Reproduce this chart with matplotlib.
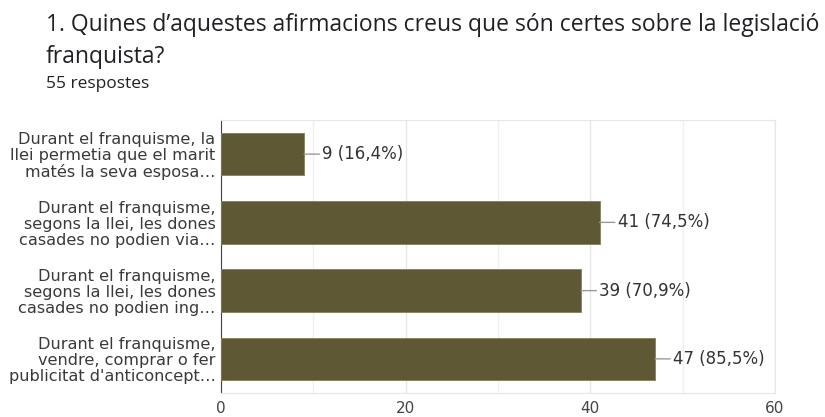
import matplotlib
matplotlib.use('Agg')
import matplotlib.pyplot as plt
from matplotlib.ticker import MultipleLocator

# Survey data
labels = [
    "Durant el franquisme, la\nllei permetia que el marit\nmatés la seva esposa…",
    "Durant el franquisme,\nsegons la llei, les dones\ncasades no podien via…",
    "Durant el franquisme,\nsegons la llei, les dones\ncasades no podien ing…",
    "Durant el franquisme,\nvendre, comprar o fer\npublicitat d'anticoncept…",
]
counts = [9, 41, 39, 47]
percents = ["16,4%", "74,5%", "70,9%", "85,5%"]
xticks = [0, 20, 40, 60]

title_line1 = "1. Quines d\u2019aquestes afirmacions creus que són certes sobre la legislació"
title_line2 = "franquista?"
subtitle = "55 respostes"

bar_color = '#5e5834'

fig = plt.figure(figsize=(8.25, 4.17), dpi=100)
ax = fig.add_axes([221 / 825, 1 - 393 / 417, (775 - 221) / 825, (393 - 120) / 417])

ypos = list(range(len(labels)))
ax.barh(ypos, counts, height=0.62, color=bar_color, edgecolor='#858058', linewidth=0.6, zorder=3)
ax.set_ylim(len(labels) - 0.5, -0.5)
ax.set_xlim(0, 60)

for y, c, p in zip(ypos, counts, percents):
    ax.annotate(f"{c} ({p})", xy=(c, y), xytext=(13, 0), textcoords='offset points',
                ha='left', va='center', fontsize=12, color='#333333', family='DejaVu Sans',
                arrowprops=dict(arrowstyle='-', color='#9a9a9a', lw=1, shrinkA=0, shrinkB=0))

ax.set_yticks(ypos)
ax.set_yticklabels(labels, fontsize=11.6, color='#3a3a3a', family='DejaVu Sans', linespacing=1.08)
ax.set_xticks(xticks)
ax.set_xticklabels([str(t) for t in xticks], fontsize=11, color='#444444', family='DejaVu Sans')
ax.xaxis.set_minor_locator(MultipleLocator(10))
ax.tick_params(axis='both', which='both', length=0)
ax.tick_params(axis='x', pad=6)
ax.tick_params(axis='y', pad=4)

ax.grid(True, axis='x', which='major', color='#e6e6e6', lw=1, zorder=0)
ax.grid(True, axis='x', which='minor', color='#f0f0f0', lw=1, zorder=0)
for side in ['top', 'right', 'bottom']:
    ax.spines[side].set_color('#e6e6e6')
ax.spines['left'].set_color('#444444')

fig.text(46 / 825, 1 - 31 / 417, title_line1, fontsize=16.5, family='Open Sans', color='#202124', va='baseline')
fig.text(46 / 825, 1 - 63 / 417, title_line2, fontsize=16.5, family='Open Sans', color='#202124', va='baseline')
fig.text(46 / 825, 1 - 88 / 417, subtitle, fontsize=12.5, family='Open Sans', color='#202124', va='baseline')

fig.savefig('out.png', dpi=100)
